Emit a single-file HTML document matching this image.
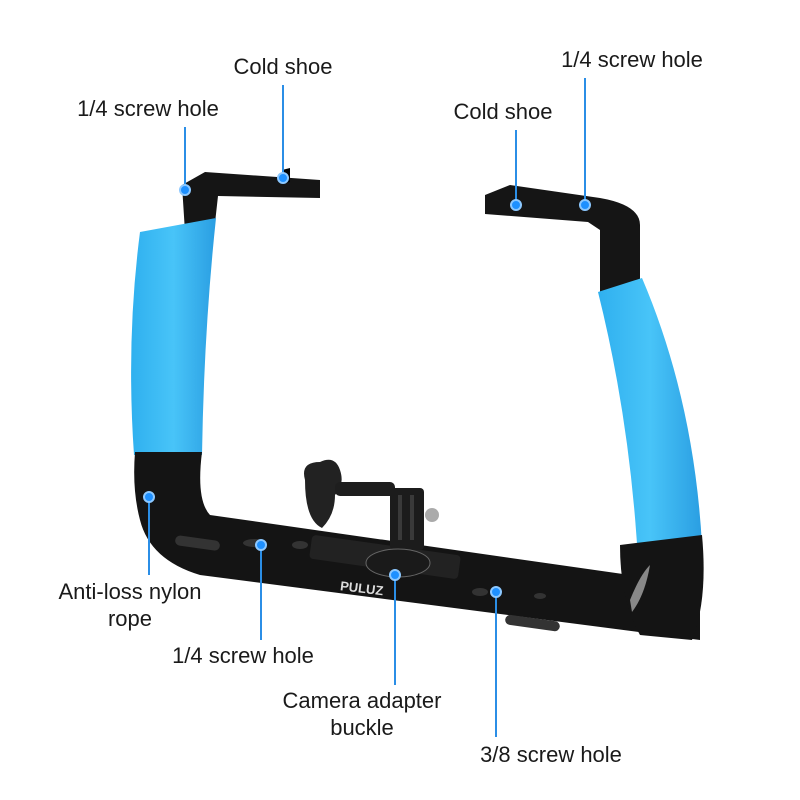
<!DOCTYPE html>
<html><head><meta charset="utf-8"><style>
body{margin:0;background:#fff}
svg{display:block}
text{font-family:"Liberation Sans",sans-serif;font-size:22px;fill:#1a1a1a}
</style></head><body>
<svg width="800" height="800" viewBox="0 0 800 800">
<defs>
<linearGradient id="bl" x1="0" x2="1"><stop offset="0" stop-color="#2fb0ef"/><stop offset="0.5" stop-color="#48c4f8"/><stop offset="1" stop-color="#2a9ee2"/></linearGradient>
</defs>
<!-- left arm -->
<path d="M182,185 L205,172 L320,180 L320,198 L218,196 L214,232 L185,232 Z" fill="#151515"/>
<path d="M282,170 L290,168 L290,182 L282,184Z" fill="#000"/>
<path d="M140,232 L216,218 Q204,330 202,455 L134,455 Q126,340 140,232Z" fill="url(#bl)"/>
<path d="M135,452 L202,452 Q196,500 210,515 L700,585 L700,640 L200,575 Q150,560 140,520 Q132,490 135,452Z" fill="#141414"/>
<!-- right arm -->
<path d="M485,195 L510,185 L600,198 Q640,205 640,225 L640,290 L600,295 L600,230 L588,222 L485,214Z" fill="#151515"/>
<path d="M598,292 L642,278 Q694,400 702,545 L638,560 Q630,420 598,292Z" fill="url(#bl)"/>
<path d="M620,545 L702,535 Q708,600 692,640 L640,635 Q620,600 620,545Z" fill="#141414"/>
<path d="M630,600 Q640,575 650,565 Q645,595 632,612Z" fill="#888"/>
<!-- holes -->
<ellipse cx="255" cy="543" rx="12" ry="4" fill="#333"/>
<ellipse cx="300" cy="545" rx="8" ry="4" fill="#333"/>
<ellipse cx="480" cy="592" rx="8" ry="4" fill="#333"/>
<ellipse cx="540" cy="596" rx="6" ry="3" fill="#333"/>
<rect x="175" y="538" width="45" height="10" rx="5" fill="#333" transform="rotate(8 197 543)"/>
<rect x="505" y="618" width="55" height="10" rx="5" fill="#333" transform="rotate(8 532 623)"/>
<rect x="310" y="545" width="150" height="24" rx="4" fill="#222" transform="rotate(8 385 557)"/>
<text x="340" y="595" style="font-size:13px;font-weight:bold;fill:#ddd" transform="rotate(7 380 590)">PULUZ</text>
<!-- mount -->
<path d="M305,480 Q300,462 320,462 Q335,455 340,470 Q345,485 335,495 Q335,515 322,528 Q305,520 305,480Z" fill="#222"/>
<rect x="335" y="482" width="60" height="14" rx="5" fill="#1e1e1e"/>
<rect x="390" y="488" width="34" height="62" rx="4" fill="#1c1c1c"/>
<rect x="398" y="495" width="4" height="45" fill="#3a3a3a"/>
<rect x="410" y="495" width="4" height="45" fill="#3a3a3a"/>
<circle cx="432" cy="515" r="7" fill="#aaa"/>
<ellipse cx="398" cy="563" rx="32" ry="14" fill="#1a1a1a" stroke="#666"/>
<!-- callout lines -->
<g stroke="#2b8ee6" stroke-width="2" fill="none">
<line x1="283" y1="85" x2="283" y2="178"/>
<line x1="185" y1="127" x2="185" y2="190"/>
<line x1="585" y1="78" x2="585" y2="205"/>
<line x1="516" y1="130" x2="516" y2="205"/>
<line x1="149" y1="497" x2="149" y2="575"/>
<line x1="261" y1="545" x2="261" y2="640"/>
<line x1="395" y1="575" x2="395" y2="685"/>
<line x1="496" y1="592" x2="496" y2="737"/>
</g>
<g fill="#1e90ff" stroke="#8cc8ff" stroke-width="2">
<circle cx="283" cy="178" r="5"/><circle cx="185" cy="190" r="5"/>
<circle cx="585" cy="205" r="5"/><circle cx="516" cy="205" r="5"/>
<circle cx="149" cy="497" r="5"/><circle cx="261" cy="545" r="5"/>
<circle cx="395" cy="575" r="5"/><circle cx="496" cy="592" r="5"/>
</g>
<g text-anchor="middle">
<text x="283" y="74">Cold shoe</text>
<text x="148" y="116">1/4 screw hole</text>
<text x="632" y="67">1/4 screw hole</text>
<text x="503" y="119">Cold shoe</text>
<text x="130" y="599">Anti-loss nylon</text>
<text x="130" y="626">rope</text>
<text x="243" y="663">1/4 screw hole</text>
<text x="362" y="708">Camera adapter</text>
<text x="362" y="735">buckle</text>
<text x="551" y="762">3/8 screw hole</text>
</g>
</svg>
</body></html>
